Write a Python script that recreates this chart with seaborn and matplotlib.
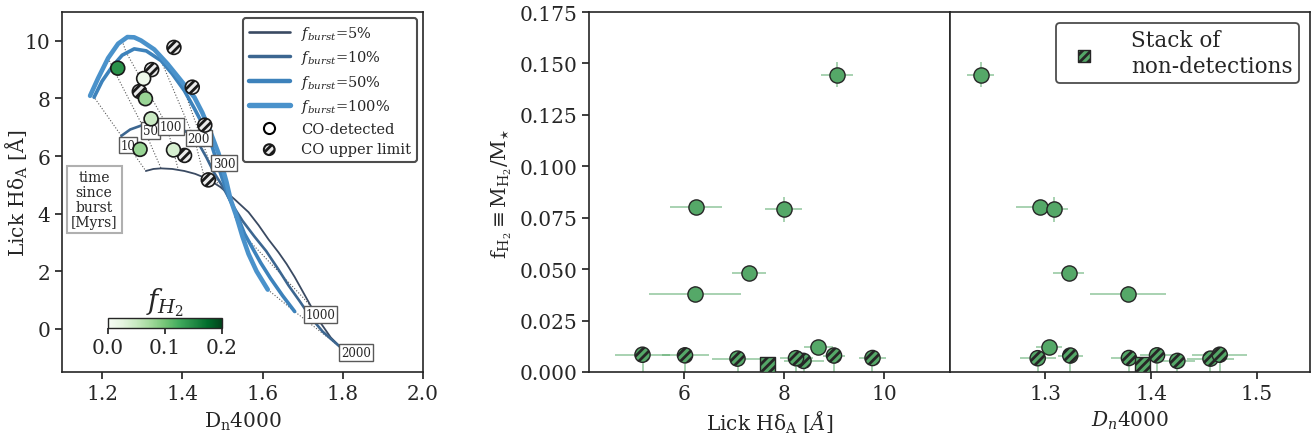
import numpy as np
import pandas as pd
import matplotlib
matplotlib.use("Agg")
import matplotlib.pyplot as plt
import seaborn as sns
from matplotlib.lines import Line2D
from matplotlib.colors import Normalize
from matplotlib.cm import ScalarMappable

# ---------------- data ----------------
# CO-detected galaxies
det_hda = [9.05, 6.23, 7.99, 7.29, 6.21, 8.69]
det_hda_err = [0.32, 0.52, 0.37, 0.34, 0.92, 0.29]
det_dn = [1.239, 1.2946, 1.308, 1.322, 1.378, 1.3035]
det_dn_err = [0.013, 0.022, 0.013, 0.015, 0.036, 0.012]
det_fh2 = [0.1445, 0.080, 0.079, 0.048, 0.038, 0.012]
det_fh2_err = [0.006, 0.002, 0.006, 0.002, 0.004, 0.001]

# CO upper limits
ul_hda = [9.77, 9.00, 8.39, 8.24, 7.07, 6.02, 5.17]
ul_hda_err = [0.28, 0.22, 0.40, 0.33, 0.52, 0.47, 0.55]
ul_dn = [1.379, 1.3236, 1.4247, 1.2928, 1.456, 1.4055, 1.4647]
ul_dn_err = [0.017, 0.012, 0.017, 0.017, 0.022, 0.016, 0.026]
ul_fh2 = [0.0068, 0.0080, 0.0054, 0.0067, 0.0065, 0.0081, 0.0084]

# stack of non-detections
stack_hda = [7.67]
stack_dn = [1.392]
stack_fh2 = [0.0037]

# model tracks (Dn4000, HdA)
track5_dn = [1.309, 1.328, 1.347, 1.375, 1.405, 1.432, 1.455, 1.475, 1.495, 1.53, 1.565, 1.59,
             1.615, 1.64, 1.66, 1.68, 1.70, 1.722, 1.745, 1.77, 1.795]
track5_hda = [5.48, 5.55, 5.57, 5.55, 5.48, 5.38, 5.25, 5.10, 4.92, 4.50, 4.05, 3.60,
              3.10, 2.65, 2.25, 1.80, 1.30, 0.75, 0.20, -0.30, -0.65]
track10_dn = [1.248, 1.27, 1.30, 1.33, 1.36, 1.39, 1.415, 1.44, 1.46, 1.478, 1.50, 1.525,
              1.55, 1.58, 1.609, 1.64, 1.665, 1.693, 1.72, 1.75, 1.795]
track10_hda = [6.70, 6.92, 7.07, 7.12, 7.10, 7.00, 6.80, 6.45, 5.95, 5.45, 4.95, 4.30,
               3.75, 3.20, 2.70, 2.05, 1.50, 0.95, 0.40, -0.10, -0.65]
track50_dn = [1.18, 1.20, 1.225, 1.25, 1.28, 1.31, 1.347, 1.375, 1.405, 1.43, 1.455, 1.475,
              1.488, 1.50, 1.515, 1.535, 1.555, 1.575, 1.595, 1.62, 1.65, 1.68]
track50_hda = [8.04, 8.60, 9.10, 9.50, 9.72, 9.65, 9.31, 8.85, 8.27, 7.65, 6.99, 6.30,
               5.71, 5.20, 4.60, 4.00, 3.30, 2.80, 2.30, 1.75, 1.15, 0.60]
track100_dn = [1.17, 1.19, 1.215, 1.24, 1.263, 1.28, 1.297, 1.33, 1.363, 1.395, 1.43, 1.45,
               1.472, 1.49, 1.50, 1.51, 1.52, 1.535, 1.55, 1.565, 1.585, 1.613]
track100_hda = [8.09, 8.70, 9.40, 9.90, 10.13, 10.12, 10.01, 9.70, 9.20, 8.65, 8.04, 7.50,
                6.76, 6.10, 5.60, 5.10, 4.50, 3.90, 3.20, 2.60, 2.00, 1.36]

# isochrones (100%, 50%, 10%, 5% tracks)
iso_ages = ["10", "50", "100", "200", "300", "1000", "2000"]
iso_dn = [[1.17, 1.18, 1.248, 1.309], [1.215, 1.225, 1.30, 1.347], [1.25, 1.26, 1.36, 1.39],
          [1.33, 1.347, 1.43, 1.455], [1.395, 1.405, 1.47, 1.49], [1.53, 1.55, 1.70, 1.722],
          [1.613, 1.68, 1.795, 1.795]]
iso_hda = [[8.09, 8.04, 6.70, 5.48], [9.40, 9.10, 7.07, 5.57], [10.0, 9.60, 7.10, 5.52],
           [9.70, 9.31, 6.60, 5.25], [8.65, 8.27, 5.70, 4.97], [3.90, 3.30, 1.10, 0.75],
           [1.36, 0.60, -0.65, -0.65]]
label_dn = [1.264, 1.32, 1.3725, 1.441, 1.505, 1.745, 1.8325]
label_hda = [6.38, 6.88, 7.02, 6.62, 5.75, 0.49, -0.82]

# ---------------- style ----------------
sns.set_theme(style="ticks")
plt.rcParams["font.family"] = ["DejaVu Serif"]
plt.rcParams["mathtext.fontset"] = "dejavuserif"
plt.rcParams["hatch.linewidth"] = 2.0
plt.rcParams["axes.edgecolor"] = "0.15"
plt.rcParams["axes.linewidth"] = 1.2
plt.rcParams["xtick.color"] = "0.15"
plt.rcParams["ytick.color"] = "0.15"
plt.rcParams["xtick.major.size"] = 5
plt.rcParams["ytick.major.size"] = 5

FS = 14.5
fig = plt.figure(figsize=(13.13, 4.39), dpi=100)
ax0 = fig.add_axes([62 / 1313, 1 - 373 / 439, 361 / 1313, 360 / 439])
ax1 = fig.add_axes([589 / 1313, 1 - 373 / 439, 361 / 1313, 360 / 439])
ax2 = fig.add_axes([950 / 1313, 1 - 373 / 439, 360 / 1313, 360 / 439], sharey=ax1)

# ---------------- left panel ----------------
for xs, ys in zip(iso_dn, iso_hda):
    ax0.plot(xs, ys, ls=":", lw=0.8, color="0.35", zorder=1)

tracks = [
    (track5_dn, track5_hda, "#3a4a62", 1.3, r"$f_{burst}$=5%"),
    (track10_dn, track10_hda, "#3c6690", 1.9, r"$f_{burst}$=10%"),
    (track50_dn, track50_hda, "#3d82bb", 2.6, r"$f_{burst}$=50%"),
    (track100_dn, track100_hda, "#4a92cb", 3.3, r"$f_{burst}$=100%"),
]
handles = []
for xs, ys, c, lw, lab in tracks:
    sns.lineplot(x=xs, y=ys, sort=False, estimator=None, color=c, lw=lw, ax=ax0, zorder=2)
    handles.append(Line2D([], [], color=c, lw=lw + 0.6, label=lab))

for x, y, t in zip(label_dn, label_hda, iso_ages):
    ax0.text(x, y, t, fontsize=8.5, ha="center", va="center", zorder=4,
             bbox=dict(boxstyle="square,pad=0.15", fc="white", ec="0.35", lw=1))

ax0.text(1.18, 4.49, "time\nsince\nburst\n[Myrs]", fontsize=10, ha="center", va="center",
         linespacing=1.1, zorder=4,
         bbox=dict(boxstyle="square,pad=0.3", fc="white", ec="#b0b0b0", lw=1.5))

df_det = pd.DataFrame({"dn": det_dn, "hda": det_hda, "fh2": det_fh2})
df_ul = pd.DataFrame({"dn": ul_dn, "hda": ul_hda})
sns.scatterplot(data=df_ul, x="dn", y="hda", color="0.92", edgecolor="0.1", linewidth=1.2,
                s=100, hatch="////", legend=False, ax=ax0, zorder=5)
sns.scatterplot(data=df_det, x="dn", y="hda", hue="fh2", palette="Greens", hue_norm=(0, 0.2),
                edgecolor="0.1", linewidth=1.2, s=100, legend=False, ax=ax0, zorder=6)

handles.append(Line2D([], [], marker="o", ls="", mfc="white", mec="black", mew=1.5, ms=8,
                      label="CO-detected"))
ul_handle = ax0.scatter([], [], s=60, facecolor="0.92", edgecolor="0.1", linewidth=1.5,
                        hatch="////", label="CO upper limit")
handles.append(ul_handle)
leg0 = ax0.legend(handles=handles, loc="upper right", fontsize=10.5, frameon=True, fancybox=True,
                  framealpha=1, edgecolor="0.3", borderaxespad=0.4, handlelength=2.8,
                  labelspacing=0.45)
leg0.get_frame().set_linewidth(1.5)

ax0.set_xlim(1.1, 2.0)
ax0.set_ylim(-1.5, 11.0)
ax0.set_xticks([1.2, 1.4, 1.6, 1.8, 2.0])
ax0.set_yticks([0, 2, 4, 6, 8, 10])
ax0.set_xlabel(r"D$_\mathrm{n}$4000", fontsize=FS, labelpad=5)
ax0.set_ylabel(r"Lick H$\mathrm{\delta}_\mathrm{A}$ [Å]", fontsize=FS)
ax0.yaxis.set_label_coords(-0.088, 0.5)
ax0.tick_params(labelsize=FS)

cax = fig.add_axes([108 / 1313, 1 - 329 / 439, 114 / 1313, 10 / 439])
cb = fig.colorbar(ScalarMappable(norm=Normalize(0, 0.2), cmap="Greens"), cax=cax,
                  orientation="horizontal", ticks=[0.0, 0.1, 0.2])
cb.ax.tick_params(labelsize=FS, length=4)
cb.outline.set_linewidth(1.0)
cb.ax.set_xticklabels(["0.0", "0.1", "0.2"])
cax.set_title(r"$f_{H_2}$", fontsize=20, pad=1)

# ---------------- right panels ----------------
green = sns.color_palette("deep")[2]
eb_kw = dict(fmt="none", ecolor=green, alpha=0.55, elinewidth=1.3, capsize=0, zorder=2)

for ax, xd, xde, xu, xue, xs in [
    (ax1, det_hda, det_hda_err, ul_hda, ul_hda_err, stack_hda),
    (ax2, det_dn, det_dn_err, ul_dn, ul_dn_err, stack_dn),
]:
    ax.errorbar(xd, det_fh2, xerr=xde, yerr=det_fh2_err, **eb_kw)
    ax.errorbar(xu, ul_fh2, xerr=xue, yerr=[ul_fh2, [0] * len(ul_fh2)], **eb_kw)
    sns.scatterplot(x=xd, y=det_fh2, color=green, edgecolor="0.15", linewidth=1.0, s=120,
                    legend=False, ax=ax, zorder=5)
    sns.scatterplot(x=xu, y=ul_fh2, color=green, edgecolor="0.15", linewidth=1.0, s=120,
                    hatch="////", legend=False, ax=ax, zorder=5)
    ax.scatter(xs, stack_fh2, marker="s", s=110, color=green, edgecolor="0.15", linewidth=1.0,
               hatch="////", zorder=6)
    ax.tick_params(labelsize=FS)

ax1.set_xlim(4.1, 11.32)
ax1.set_ylim(0, 0.175)
ax1.set_xticks([6, 8, 10])
ax1.set_yticks([0, 0.025, 0.05, 0.075, 0.1, 0.125, 0.15, 0.175])
ax1.set_yticklabels(["0.000", "0.025", "0.050", "0.075", "0.100", "0.125", "0.150", "0.175"])
ax1.set_xlabel(r"Lick H$\mathrm{\delta}_\mathrm{A}$ [$Å$]", fontsize=FS, labelpad=4)
ax1.set_ylabel(r"$\mathrm{f_{H_2} \equiv M_{H_2}/M_{\star}}$", fontsize=FS, labelpad=4)

ax2.set_xlim(1.21, 1.55)
ax2.set_xticks([1.3, 1.4, 1.5])
ax2.tick_params(left=False, labelleft=False)
ax2.set_xlabel(r"$D_n$4000", fontsize=FS, labelpad=4)

stack_handle = ax2.scatter([], [], marker="s", s=80, color=green, edgecolor="0.15",
                           linewidth=1.0, hatch="////")
leg2 = ax2.legend([stack_handle], ["Stack of\nnon-detections"], loc="upper right",
                  fontsize=15.5, frameon=True, fancybox=True, framealpha=1, edgecolor="0.3",
                  borderaxespad=0.5, handletextpad=1.2, borderpad=0.3)
leg2.get_frame().set_linewidth(1.3)

fig.savefig("out.png", dpi=100)
